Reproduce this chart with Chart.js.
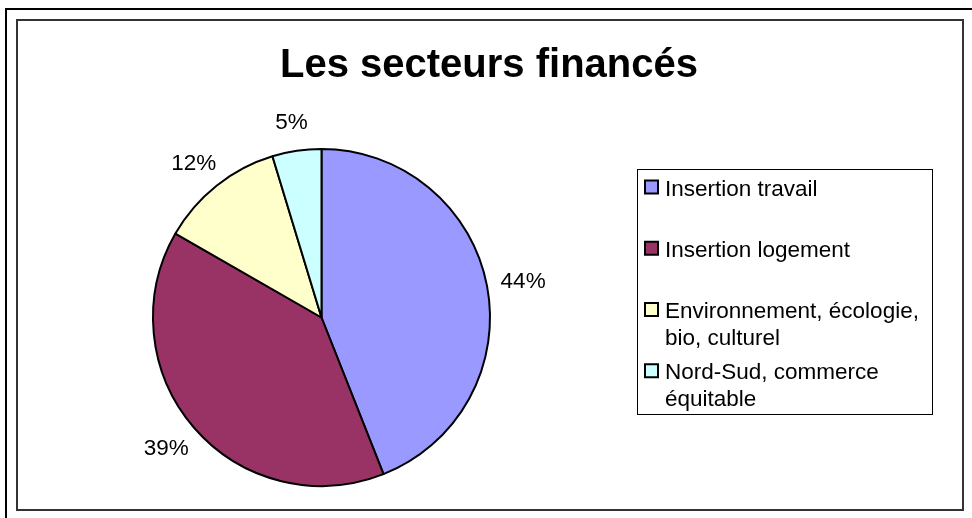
<!DOCTYPE html>
<html>
<head>
<meta charset="utf-8">
<script src="https://cdn.jsdelivr.net/npm/chart.js@4.4.1/dist/chart.umd.min.js"></script>
<style>
    html, body { margin:0; padding:0; background:#fff; overflow:hidden; }
    body { width:972px; height:518px; position:relative; }
    .outer { position:absolute; left:5px; top:8px; width:1000px; height:600px; border:2px solid #000; }
    .inner { position:absolute; left:16px; top:19px; width:944px; height:488px; border:2px solid #333; }
    #chart { position:absolute; left:0; top:0; }
</style>
</head>
<body>
<div class="outer"></div>
<div class="inner"></div>
<canvas id="chart" width="972" height="518"></canvas>
<script>
// data
const title = "Les secteurs financés";
const categories = ["Insertion travail","Insertion logement","Environnement, écologie, bio, culturel","Nord-Sud, commerce équitable"];
const values = [44, 39.3, 12, 4.7];
const colors = ["#9999FF","#993366","#FFFFCC","#CCFFFF"];

const FONT = `"Liberation Sans", Arial, Helvetica, sans-serif`;

const wrap = (ctx,text,maxWidth)=>{
    const words = text.split(" ");
    let lines = [];
    let line = "";
    words.forEach(w=>{
        const test = line ? line + " " + w : w;
        if (line && ctx.measureText(test).width > maxWidth) {
            lines.push(line);
            line = w;
        } else line = test;
    });
    if (line) lines.push(line);
    return lines;
}

// title, outside percent labels and the boxed legend
const decorations = {
    id : "decorations",
    afterDraw(chart) {
        const ctx = chart.ctx;
        ctx.save();
        ctx.fillStyle = "#000";

        ctx.font = `bold 40px ${FONT}`;
        ctx.textAlign = "center";
        ctx.textBaseline = "alphabetic";
        ctx.fillText(title, 489, 77);

        // percentages, outside end (excel pushes the text box off the pie a bit)
        ctx.font = `22.5px ${FONT}`;
        const total = values.reduce((a,b)=>a+b);
        const arcs = chart.getDatasetMeta(0).data;
        arcs.forEach((arc,i)=>{
            const txt = Math.round(values[i] / total * 100) + "%";
            const w = ctx.measureText(txt).width;
            const mid = (arc.startAngle + arc.endAngle) / 2;
            const d = arc.outerRadius + 30;
            const x = arc.x + Math.cos(mid) * (d + w * 0.15);
            const y = arc.y + Math.sin(mid) * d;
            ctx.fillText(txt, x, y + 8);
        });

        // legend
        const box = {left:637.5, top:169.5, width:295, height:245};
        ctx.lineWidth = 1;
        ctx.strokeStyle = "#000";
        ctx.strokeRect(box.left, box.top, box.width, box.height);
        ctx.textAlign = "left";
        const slot = box.height / categories.length;
        categories.forEach((cat,i)=>{
            const base = box.top + 26 + i * slot;
            ctx.fillStyle = colors[i];
            ctx.fillRect(645, base - 15, 13, 13);
            ctx.lineWidth = 2;
            ctx.strokeRect(645, base - 15, 13, 13);
            ctx.fillStyle = "#000";
            wrap(ctx, cat, 264).forEach((line,j)=>{
                ctx.fillText(line, 665, base + j * 27);
            });
        });
        ctx.restore();
    }
};

const chart = new Chart(document.getElementById("chart"),{
    type : "pie",
    data : {
        labels : categories,
        datasets : [{
            data : values,
            backgroundColor : colors,
            borderColor : "#000",
            borderWidth : 2
        }]
    },
    options : {
        responsive : false,
        animation : false,
        layout : {
            padding : {left:152, right:481, top:148, bottom:31}
        },
        plugins : {
            legend : {display:false},
            title : {display:false},
            tooltip : {enabled:false}
        }
    },
    plugins : [decorations]
});
</script>
</body>
</html>
